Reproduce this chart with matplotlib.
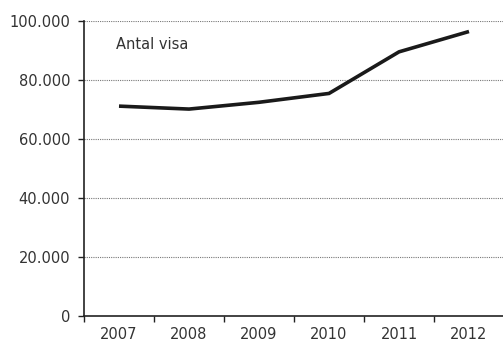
import matplotlib
matplotlib.use("Agg")
import matplotlib.pyplot as plt
from matplotlib.ticker import FixedLocator, FuncFormatter

years = ["2007", "2008", "2009", "2010", "2011", "2012"]
antal_visa = [71000, 70000, 72300, 75300, 89400, 96300]
y_ticks = [0, 20000, 40000, 60000, 80000, 100000]

plt.rcParams["font.family"] = ["DejaVu Sans"]

figure = plt.figure(figsize=(5.03, 3.43), dpi=100)
axis = figure.add_axes([0.167, 0.08, 0.835, 0.86])

positions = list(range(len(years)))
axis.plot(positions, antal_visa, color="#1a1a1a", linewidth=2.6,
          solid_joinstyle="miter", solid_capstyle="butt", zorder=3)

axis.set_xlim(-0.5, len(years) - 0.5)
axis.set_ylim(0, 100000)

# category boundaries carry the tick marks, centres carry the labels
axis.xaxis.set_major_locator(FixedLocator([p - 0.5 for p in range(len(years) + 1)]))
axis.xaxis.set_major_formatter(FuncFormatter(lambda v, _: ""))
axis.xaxis.set_minor_locator(FixedLocator(positions))
axis.set_xticklabels(years, minor=True)
axis.tick_params(axis="x", which="major", length=4, width=1, color="#222222")
axis.tick_params(axis="x", which="minor", length=0, pad=8,
                 labelsize=10.5, labelcolor="#333333")

axis.set_yticks(y_ticks)
axis.yaxis.set_major_formatter(
    FuncFormatter(lambda v, _: f"{int(v):,}".replace(",", "."))
)
axis.tick_params(axis="y", length=4, width=1, color="#222222", pad=6,
                 labelsize=10.5, labelcolor="#333333")

for value in y_ticks[1:]:
    axis.axhline(value, color="#777777", linewidth=0.8, linestyle=(0, (1, 1)),
                 zorder=1)

for side in ["top", "right"]:
    axis.spines[side].set_visible(False)
for side in ["left", "bottom"]:
    axis.spines[side].set_color("#222222")
    axis.spines[side].set_linewidth(1.2)

axis.text(0.076, 0.918, "Antal visa", transform=axis.transAxes,
          fontsize=10.5, color="#333333", va="center", ha="left")

figure.savefig("out.png", dpi=100)
